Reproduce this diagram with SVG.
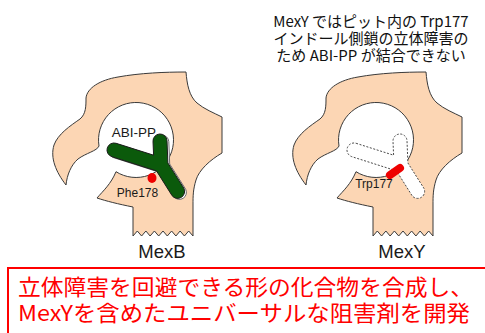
<svg xmlns="http://www.w3.org/2000/svg" xmlns:xlink="http://www.w3.org/1999/xlink" width="485" height="333" viewBox="0 0 485 333">
  <style>
    .body { fill: #fcd6b4; stroke: #3a3a3a; stroke-width: 1; stroke-linejoin: round; }
    .lbl { font-family: "Liberation Sans", Arial, sans-serif; fill: #1a1a1a; }
    .jp { font-family: "Noto Sans CJK JP", "Noto Sans", sans-serif; }
    .ligand { fill: #0b5a0b; stroke: #1c1c1c; stroke-width: 1; stroke-linejoin: round; }
    .ligand-shadow { fill: #ffffff; stroke: #6a6a6a; stroke-width: 1; stroke-linejoin: round; }
    .ghost { fill: #ffffff; stroke: #4a4a4a; stroke-width: 1; stroke-dasharray: 2 1.6; stroke-linejoin: round; }
  </style>
  <defs>
    <!-- transporter cross-section with the binding pit -->
    <path id="body-shape" d="M66,185 C56,172 50,158 54,145 C58,134 70,126 80,119 C86,114 86,106 86,98 C87,88 100,80 118,77 C140,73 165,72 186,72 C187,84 189,96 197,103 C204,109 214,113 222,117 L222,153 C210,160 199,170 196,180 C193,190 193,196 193,205 L193,236 L188.7,231 L184.4,236 L180.1,231 L175.9,236 L171.6,231 L167.3,236 L163,231 L158.7,236 L154.4,231 L150.1,236 L145.9,231 L141.6,236 L137.3,231 L133,236 L133,207 C118,204 106,201 97,198 C103,191 111,184 116,171.7 A37.5,37.5 0 1 0 99,146 C97,151 86,153 78,159 C71,165 67,175 66,185 Z"/>
    <!-- Y-shaped inhibitor silhouette -->
    <path id="y-shape" d="M116.1,143.3 L153.6,155.2 L153,141.3 A7,7 0 0 1 167,140.7 L167.9,163 L183.9,188.3 A7,7 0 0 1 172.1,195.7 L156.5,170.9 L111.9,156.7 A7,7 0 0 1 116.1,143.3 Z"/>
  </defs>

  <!-- MexB: ABI-PP bound in the pit -->
  <g id="mexb">
    <use xlink:href="#body-shape" class="body"/>
    <text class="lbl" x="134" y="137" font-size="13.5" text-anchor="middle">ABI-PP</text>
    <ellipse cx="152" cy="178" rx="4.5" ry="5" fill="#ee0000"/>
    <use xlink:href="#y-shape" class="ligand-shadow" transform="translate(1.8,1)"/>
    <use xlink:href="#y-shape" class="ligand"/>
    <text class="lbl" x="137.5" y="196.5" font-size="12" text-anchor="middle">Phe178</text>
    <text class="lbl" x="162" y="258" font-size="18.5" text-anchor="middle">MexB</text>
  </g>

  <!-- MexY: Trp177 blocks the pit -->
  <g id="mexy">
    <use xlink:href="#body-shape" class="body" transform="translate(240,0)"/>
    <use xlink:href="#y-shape" class="ghost" transform="translate(240,0)"/>
    <line x1="390" y1="175" x2="400" y2="168" stroke="#ee0000" stroke-width="8" stroke-linecap="round"/>
    <text class="lbl" x="374" y="188" font-size="12" text-anchor="middle">Trp177</text>
    <text class="lbl" x="402" y="258" font-size="18.5" text-anchor="middle">MexY</text>
  </g>

  <!-- note above MexY -->
  <g id="note" class="jp" font-size="15" fill="#111" text-anchor="middle">
    <text x="371" y="27">MexY ではピット内の Trp177</text>
    <text x="371" y="44">インドール側鎖の立体障害の</text>
    <text x="371" y="60.5">ため ABI-PP が結合できない</text>
  </g>

  <!-- conclusion box -->
  <g id="summary">
    <rect x="8" y="268" width="490" height="80" fill="#ffffff" stroke="#ff0000" stroke-width="2"/>
    <g class="jp" font-size="22" fill="#ff0000">
      <text x="18" y="294.5" textLength="455" lengthAdjust="spacingAndGlyphs">立体障害を回避できる形の化合物を合成し、</text>
      <text x="18" y="320.5" textLength="452" lengthAdjust="spacingAndGlyphs">MexYを含めたユニバーサルな阻害剤を開発</text>
    </g>
  </g>
</svg>
